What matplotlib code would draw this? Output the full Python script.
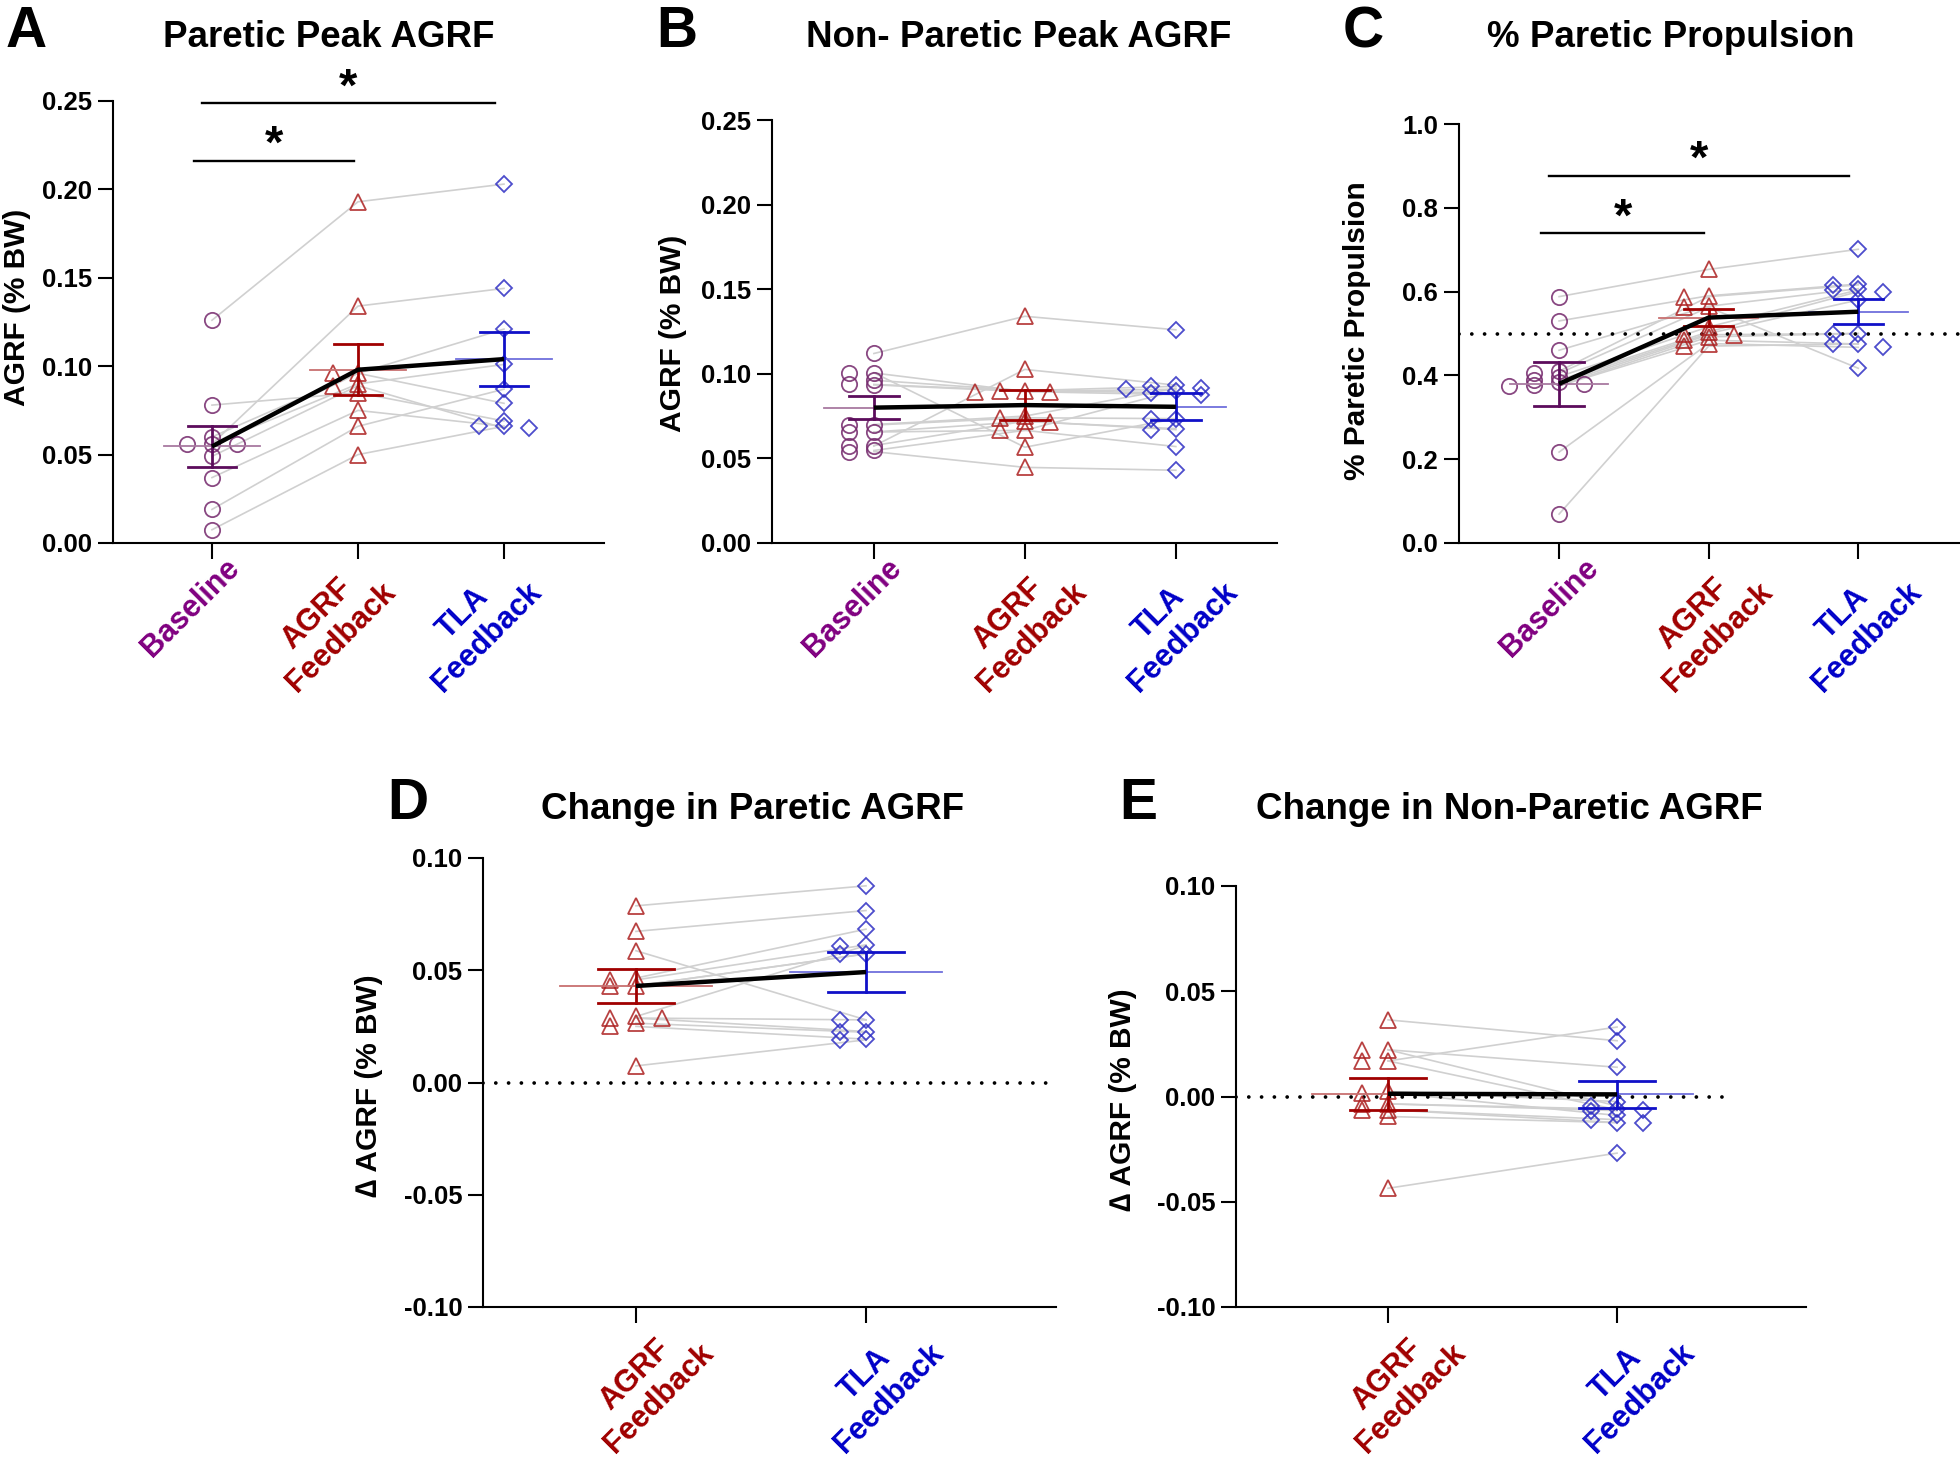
import matplotlib
matplotlib.use("Agg")
import matplotlib.pyplot as plt
import numpy as np

plt.rcParams["font.family"] = ["Liberation Sans", "DejaVu Sans"]
plt.rcParams["font.weight"] = "bold"
plt.rcParams["axes.unicode_minus"] = False

W, H = 1960, 1476

## tick labels
LABELS = {"base": "Baseline", "agrf": "AGRF\nFeedback", "tla": "TLA\nFeedback"}

## A  Paretic peak AGRF (one entry per subject)
A_base = [0.126, 0.056, 0.078, 0.060, 0.056, 0.056, 0.049, 0.037, 0.019, 0.0075]
A_agrf = [0.193, 0.134, 0.085, 0.096, 0.090, 0.096, 0.089, 0.075, 0.066, 0.050]
A_tla = [0.203, 0.144, 0.069, 0.121, 0.101, 0.079, 0.065, 0.066, 0.087, 0.066]
A_mean = [0.0546, 0.098, 0.104]
A_sem = [0.0115, 0.0144, 0.0154]
A_sig = [0.216, 0.2486]

## B  Non-paretic peak AGRF
B_base = [0.112, 0.0573, 0.1006, 0.054, 0.0656, 0.0962, 0.0937, 0.1005, 0.0935, 0.070, 0.0697, 0.0656, 0.0576, 0.0547]
B_agrf = [0.134, 0.1026, 0.0566, 0.0447, 0.0666, 0.090, 0.090, 0.0895, 0.0895, 0.075, 0.074, 0.0718, 0.072, 0.0666]
B_tla = [0.126, 0.0933, 0.0735, 0.043, 0.057, 0.0926, 0.0888, 0.0909, 0.0877, 0.0915, 0.0735, 0.0676, 0.067, 0.090]
B_mean = [0.080, 0.0815, 0.0805]
B_sem = [0.0068, 0.0089, 0.0081]

## C  % paretic propulsion
C_base = [0.588, 0.530, 0.460, 0.410, 0.405, 0.397, 0.389, 0.385, 0.380, 0.376, 0.375, 0.217, 0.069]
C_agrf = [0.653, 0.590, 0.565, 0.588, 0.5625, 0.516, 0.504, 0.500, 0.497, 0.492, 0.484, 0.476, 0.470]
C_tla = [0.701, 0.618, 0.607, 0.616, 0.417, 0.604, 0.600, 0.580, 0.500, 0.500, 0.475, 0.467, 0.475]
C_mean = [0.380, 0.538, 0.552]
C_sem = [0.052, 0.0195, 0.030]
C_sig = [0.739, 0.876]

## D  change in paretic AGRF
D_agrf = [0.0787, 0.0673, 0.0587, 0.0465, 0.0457, 0.043, 0.043, 0.0294, 0.0287, 0.0287, 0.0264, 0.025, 0.0074]
D_tla = [0.0876, 0.0766, 0.0279, 0.0683, 0.0613, 0.0573, 0.0573, 0.061, 0.0279, 0.0227, 0.0224, 0.0193, 0.019]
D_mean = [0.043, 0.0492]
D_sem = [0.0074, 0.009]

## E  change in non-paretic AGRF
E_agrf = [0.0364, 0.0169, 0.0222, 0.0222, 0.0169, 0.0024, 0.0019, -0.0035, -0.0035, -0.0063, -0.0063, -0.0095, -0.0436]
E_tla = [0.0265, 0.033, 0.0139, -0.0045, -0.0063, -0.0024, -0.009, -0.0067, -0.006, -0.0124, -0.011, -0.0124, -0.0269]
E_mean = [0.0013, 0.001]
E_sem = [0.0077, 0.0065]

STYLE = {
    "base": dict(marker="o", ms=11, mk="#74286c", dark="#5c0c5c", light="#a87aa0", lab="#800080"),
    "agrf": dict(marker="^", ms=11, mk="#ac2020", dark="#a00000", light="#c87070", lab="#a00000"),
    "tla": dict(marker="D", ms=7.8, mk="#2e2ec4", dark="#1010c8", light="#7070dc", lab="#0000c8"),
}

fig = plt.figure(figsize=(W / 100, H / 100), dpi=100)


def jitter(vals, ppy, ppx, step_px, thr=4.5):
    ##simple beeswarm in pixel space
    vals = np.asarray(vals, dtype=float)
    order = np.argsort(-vals, kind="stable")
    placed = []
    offs = np.zeros(len(vals))
    for i in order:
        y = vals[i] * ppy
        for k in (0, -1, 1, -2, 2, -3, 3):
            if all(pk != k or abs(y - py) >= thr for py, pk in placed):
                break
        placed.append((y, k))
        offs[i] = k * step_px / ppx
    return offs


def panel(box, xlim, ylim, yticks, yfmt, keys, data, means, sems, step_px, lab_off, dx2,
          title, tx, ty, letter, lx, ylabel, yx, yy, ref=None, ref_end=1.0, sig=None):
    l, r, t, b = box
    ax = fig.add_axes([l / W, 1 - b / H, (r - l) / W, (b - t) / H])
    ax.set_xlim(xlim)
    ax.set_ylim(ylim)
    ppx = (r - l) / (xlim[1] - xlim[0])
    ppy = (b - t) / (ylim[1] - ylim[0])
    xs = np.arange(len(keys))

    for subj in zip(*data):
        ax.plot(xs, subj, color="#d0d0d0", lw=1.2, zorder=1)

    if ref is not None:
        ax.axhline(ref, xmax=ref_end, color="black", lw=2.7, ls=(0, (0.01, 3.4)),
                   dash_capstyle="round", zorder=2)

    for g, (k, v) in enumerate(zip(keys, data)):
        st = STYLE[k]
        off = jitter(v, ppy, ppx, step_px)
        ax.plot(g + off, v, ls="none", marker=st["marker"], ms=st["ms"], mfc="none",
                mec=st["mk"], mew=1.3, alpha=0.85, zorder=3, clip_on=False)
        m, s = means[g], sems[g]
        ax.plot([g - 0.33, g + 0.33], [m, m], color=st["light"], lw=1.3, zorder=4)
        ax.plot([g, g], [m - s, m + s], color=st["dark"], lw=2, zorder=5)
        for yv in (m - s, m + s):
            ax.plot([g - 0.165, g + 0.165], [yv, yv], color=st["dark"], lw=2, zorder=5)
        off_xy = (lab_off[0] + (dx2 if "\n" in LABELS[k] else 0), lab_off[1])
        ax.annotate(LABELS[k], xy=(g, 0), xycoords=ax.get_xaxis_transform(),
                    xytext=off_xy, textcoords="offset pixels", rotation=45,
                    rotation_mode="anchor", ha="right", va="top", multialignment="center",
                    color=st["lab"], fontsize=22, fontweight="bold")

    ax.plot(xs, means, color="black", lw=3.2, zorder=6, solid_capstyle="butt")

    if sig is not None:
        spans = [(-0.12, -0.03), (-0.07, -0.06)]
        for (j, yv), (s0, s1) in zip(zip((1, 2), sig), spans):
            x0, x1 = 0 + s0, j + s1
            ax.plot([x0, x1], [yv, yv], color="black", lw=1.7, clip_on=False, zorder=6)
            ax.annotate("*", xy=((x0 + x1) / 2, yv), xytext=(0, 3), textcoords="offset pixels",
                        ha="center", va="baseline", fontsize=34, fontweight="bold",
                        annotation_clip=False)

    ax.spines["top"].set_visible(False)
    ax.spines["right"].set_visible(False)
    for sp in ("left", "bottom"):
        ax.spines[sp].set_linewidth(1.5)
    ax.set_xticks(xs)
    ax.set_xticklabels([])
    ax.set_yticks(yticks)
    ax.set_yticklabels([yfmt % v for v in yticks])
    ax.tick_params(axis="x", length=11.5, width=1.5)
    ax.tick_params(axis="y", length=11, width=1.5, labelsize=18.5, pad=4)

    fig.text(tx / W, 1 - ty / H, title, ha="center", va="baseline", fontsize=26.5, fontweight="bold")
    fig.text(lx / W, 1 - ty / H, letter, ha="center", va="baseline", fontsize=41, fontweight="bold")
    fig.text(yx / W, 1 - yy / H, ylabel, rotation=90, ha="center", va="center",
             fontsize=21.5, fontweight="bold")
    return ax


panel((113, 604, 101, 543), (-0.678, 2.685), (0, 0.25), np.arange(0, 0.251, 0.05), "%.2f",
      ["base", "agrf", "tla"], [A_base, A_agrf, A_tla], A_mean, A_sem, 25, (12, -10), -14,
      "Paretic Peak AGRF", 329, 47, "A", 26, "AGRF (% BW)", 17, 307, sig=A_sig)

panel((772, 1277, 120, 543), (-0.675, 2.67), (0, 0.25), np.arange(0, 0.251, 0.05), "%.2f",
      ["base", "agrf", "tla"], [B_base, B_agrf, B_tla], B_mean, B_sem, 25, (12, -10), 10,
      "Non- Paretic Peak AGRF", 1019, 47, "B", 677, "AGRF (% BW)", 673, 333)

panel((1459, 1960, 124, 543), (-0.669, 2.68), (0, 1.0), np.arange(0, 1.01, 0.2), "%.1f",
      ["base", "agrf", "tla"], [C_base, C_agrf, C_tla], C_mean, C_sem, 25, (24, -10), 0,
      "% Paretic Propulsion", 1671, 47, "C", 1363, "% Paretic Propulsion", 1357, 331,
      ref=0.5, sig=C_sig)

panel((483, 1056, 858, 1307), (-0.665, 1.826), (-0.1, 0.1), np.arange(-0.1, 0.101, 0.05), "%.2f",
      ["agrf", "tla"], [D_agrf, D_tla], D_mean, D_sem, 26, (38, -7), 0,
      "Change in Paretic AGRF", 753, 819, "D", 408, "\u2206 AGRF (% BW)", 369, 1086, ref=0.0)

panel((1236, 1806, 886, 1307), (-0.664, 1.825), (-0.1, 0.1), np.arange(-0.1, 0.101, 0.05), "%.2f",
      ["agrf", "tla"], [E_agrf, E_tla], E_mean, E_sem, 26, (38, -7), 0,
      "Change in Non-Paretic AGRF", 1509, 819, "E", 1138, "\u2206 AGRF (% BW)", 1123, 1100,
      ref=0.0, ref_end=0.86)

fig.savefig("out.png", dpi=100)
